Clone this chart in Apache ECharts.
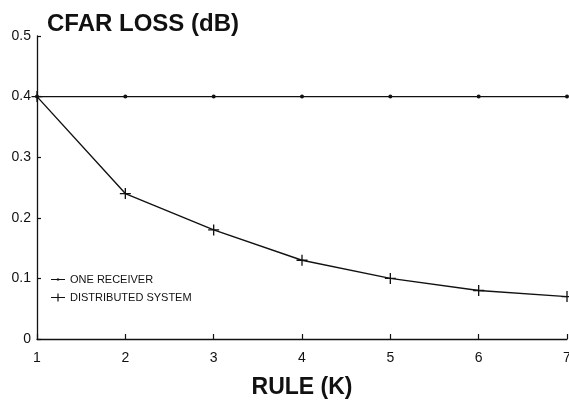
<!DOCTYPE html>
<html>
<head>
<meta charset="utf-8">
<script src="https://cdn.jsdelivr.net/npm/echarts@6/dist/echarts.min.js"></script>
<style>html,body{margin:0;padding:0;background:#fff}#c{width:569px;height:401px}</style>
</head>
<body>
<div id="c"></div>
<script>
const rules = [1, 2, 3, 4, 5, 6, 7];
const oneReceiver = [0.40, 0.40, 0.40, 0.40, 0.40, 0.40, 0.40];
const distributedSystem = [0.40, 0.24, 0.18, 0.13, 0.10, 0.08, 0.07];
const seriesNames = ['ONE RECEIVER', 'DISTRIBUTED SYSTEM'];
const titleText = 'CFAR LOSS (dB)';
const xAxisName = 'RULE (K)';

const FONT = '"Liberation Sans", Arial, Helvetica, sans-serif';
const INK = '#111';
const plus = 'path://M4.4,0h1.2v10h-1.2z M0,4.4h10v1.2h-10z';
const legendDot = 'path://M0,0h0.01v0.01h-0.01z M14,9h-0.01v-0.01h0.01z M0,3.9h14v1.2h-14z M5.9,3.4h2.2v2.2h-2.2z';
const legendPlus = 'path://M0,0h0.01v0.01h-0.01z M14,9h-0.01v-0.01h0.01z M0,3.9h14v1.2h-14z M6.4,0.5h1.2v8h-1.2z';

const chart = echarts.init(document.getElementById('c'), null, {renderer: 'canvas'});
chart.setOption({
  backgroundColor: '#fff',
  animation: false,
  title: {
    text: titleText,
    left: 42, top: 7,
    textStyle: {fontFamily: FONT, fontWeight: 'bold', fontSize: 24, color: INK}
  },
  legend: {
    orient: 'vertical',
    left: 46, top: 269,
    itemGap: 7, itemWidth: 14, itemHeight: 9,
    textStyle: {fontFamily: FONT, fontSize: 11, color: INK},
    data: [
      {name: seriesNames[0], icon: legendDot},
      {name: seriesNames[1], icon: legendPlus}
    ]
  },
  grid: {left: 37, right: 2, top: 36, bottom: 62, containLabel: false, outerBoundsMode: 'none'},
  xAxis: {
    type: 'value', min: 1, max: 7, interval: 1,
    name: xAxisName, nameLocation: 'middle', nameGap: 37,
    nameTextStyle: {fontFamily: FONT, fontWeight: 'bold', fontSize: 23, color: INK},
    axisLine: {lineStyle: {color: INK, width: 1.3}},
    axisTick: {inside: true, length: 5, lineStyle: {color: INK, width: 1.2}},
    axisLabel: {fontFamily: FONT, fontSize: 14, color: INK, margin: 12},
    splitLine: {show: false}
  },
  yAxis: {
    type: 'value', min: 0, max: 0.5, interval: 0.1,
    axisLine: {show: true, lineStyle: {color: INK, width: 1.3}},
    axisTick: {show: true, inside: true, length: 4, lineStyle: {color: INK, width: 1.2}},
    axisLabel: {fontFamily: FONT, fontSize: 14, color: INK, margin: 6},
    splitLine: {show: false}
  },
  series: [
    {
      name: seriesNames[0], type: 'line',
      data: rules.map((r, i) => [r, oneReceiver[i]]),
      symbol: 'circle', symbolSize: 4, showAllSymbol: true,
      lineStyle: {color: INK, width: 1.4},
      itemStyle: {color: INK}
    },
    {
      name: seriesNames[1], type: 'line',
      data: rules.map((r, i) => [r, distributedSystem[i]]),
      symbol: plus, symbolSize: 11, showAllSymbol: true,
      lineStyle: {color: INK, width: 1.4},
      itemStyle: {color: INK}
    }
  ]
});
</script>
</body>
</html>
